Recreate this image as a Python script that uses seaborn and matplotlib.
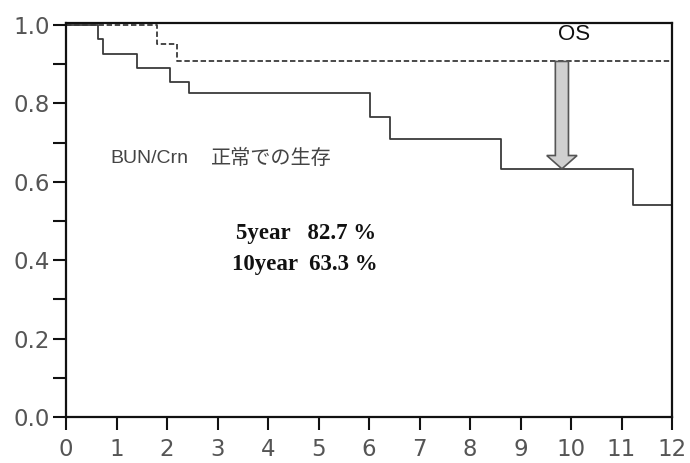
import matplotlib
matplotlib.use("Agg")
import matplotlib.pyplot as plt
import seaborn as sns
import numpy as np
import pandas as pd
from matplotlib.ticker import MultipleLocator

# Data
bun_time = [0.0, 0.63, 0.73, 1.40, 2.05, 2.44, 6.02, 6.42, 8.62, 11.23, 12.0]
bun_surv = [1.0, 0.963, 0.926, 0.890, 0.855, 0.827, 0.766, 0.708, 0.633, 0.540, 0.540]
os_time = [0.0, 1.80, 2.20, 12.0]
os_surv = [1.0, 0.952, 0.907, 0.907]
x_ticks = list(range(0, 13))
y_ticks = [0.0, 0.2, 0.4, 0.6, 0.8, 1.0]
y_ticklabels = ["0.0", "0.2", "0.4", "0.6", "0.8", "1.0"]
rate_5y = 82.7
rate_10y = 63.3

sns.set_style("white")
plt.rcParams['font.family'] = ['DejaVu Sans']

fig = plt.figure(figsize=(6.9, 4.63), dpi=100)
ax = fig.add_axes([66/690, 1 - 417/463, (672-66)/690, (417-23)/463])

df_bun = pd.DataFrame({"t": bun_time, "s": bun_surv})
df_os = pd.DataFrame({"t": os_time, "s": os_surv})
sns.lineplot(data=df_bun, x="t", y="s", drawstyle="steps-post", estimator=None,
             color="#3a3a3a", linewidth=1.3, ax=ax)
sns.lineplot(data=df_os, x="t", y="s", drawstyle="steps-post", estimator=None,
             color="#3a3a3a", linewidth=1.3, linestyle=(0, (3, 1.5)), ax=ax)

ax.set_xlim(0, 12)
ax.set_ylim(0, 1.005)
ax.set_xlabel("")
ax.set_ylabel("")
ax.set_xticks(x_ticks)
ax.set_xticklabels([str(v) for v in x_ticks])
ax.set_yticks(y_ticks)
ax.set_yticklabels(y_ticklabels)
ax.yaxis.set_minor_locator(MultipleLocator(0.1))

for sp in ax.spines.values():
    sp.set_visible(True)
    sp.set_color("#111111")
    sp.set_linewidth(1.6)

ax.tick_params(axis="both", which="both", direction="out", length=9.5, width=1.5,
               color="#111111", labelcolor="#555555", labelsize=16.5)
ax.tick_params(axis="x", which="both", bottom=True, pad=5.5)
ax.tick_params(axis="y", which="both", left=True, pad=2)

# arrow from OS to BUN curve at 10 years
arrow_x = 9.82
y_top = os_surv[-1]
y_bot = rate_10y / 100
ax.arrow(arrow_x, y_top, 0, y_bot - y_top, width=0.26, head_width=0.6,
         head_length=0.034, length_includes_head=True,
         facecolor="#d0d0d0", edgecolor="#555555", linewidth=1.2, zorder=5)

ax.text(10.06, 0.976, "OS", fontsize=16, color="#111111", ha="center", va="center",
        family=["Liberation Sans", "DejaVu Sans"])
ax.text(0.87, 0.66, "BUN/Crn", fontsize=14, color="#444444", ha="left", va="center",
        family=["Liberation Sans", "DejaVu Sans"])
ax.text(2.87, 0.66, "正常での生存", fontsize=14.5, color="#444444", ha="left", va="center",
        family=["Noto Sans CJK JP", "DejaVu Sans"])

ax.text(3.36, 0.468, f"5year   {rate_5y} %", fontsize=16.5, fontweight="bold",
        ha="left", va="center", color="#111111", family=["Liberation Serif", "DejaVu Serif"])
ax.text(3.28, 0.390, f"10year  {rate_10y} %", fontsize=16.5, fontweight="bold",
        ha="left", va="center", color="#111111", family=["Liberation Serif", "DejaVu Serif"])

fig.savefig("out.png", dpi=100)
